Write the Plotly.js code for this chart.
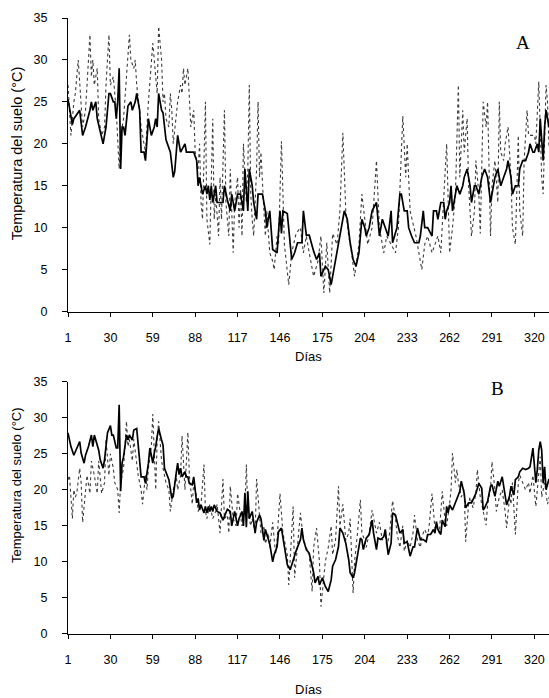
<!DOCTYPE html>
<html><head><meta charset="utf-8">
<script src="https://cdn.plot.ly/plotly-3.0.1.min.js"></script>
<style>html,body{margin:0;padding:0;background:#fff;}#chart{width:549px;height:698px;}</style>
</head><body><div id="chart"></div>
<script>
// Panel A – solid series
const aSolidDays = [1,4,5,9,11,13,16,17,18,20,21,25,27,29,30,32,33,34,35,36,37,38,39,40,42,44,45,47,48,50,51,53,54,56,58,60,61,62,63,65,66,68,71,73,74,76,78,79,81,82,86,87,89,90,91,93,95,96,97,98,99,100,102,103,107,108,110,112,113,115,117,119,120,121,122,124,125,127,128,130,131,134,136,137,139,140,141,144,146,147,148,151,153,154,156,158,161,162,164,166,169,171,173,174,177,179,181,184,186,188,190,192,194,196,198,200,202,204,205,207,209,212,213,214,216,218,220,222,223,226,228,229,231,233,234,236,238,241,242,244,245,247,250,251,253,254,256,258,259,260,262,263,264,266,267,269,271,272,274,276,277,279,280,282,284,286,288,290,291,293,295,297,299,301,302,304,305,307,309,310,312,314,316,317,319,320,322,323,324,326,327,328,330];
const aSolidTemp = [25.3,22.3,23,24,21,22,24,25,24,25,23,20,22,26,26,25,25,23,25,29,17,22,22,21,24.5,25,24,25,26,24,19,19,18,23,21,22,23,22,26,24,23.7,20.5,19,16,16.7,21,19,19.3,20,19,19,19,18,15,16,14,15,14,15,13.3,15,13,15,13,13,15,13.3,12,14,12,14,14,13,12,17,12,17,15,13,11,14,14,12,10,12,10,7.4,7,12,9.3,12,11.7,7.8,6.2,7,8.2,8.2,12,9.1,9.1,7.2,6.2,7,4.2,5.4,5,3.2,6.2,8.2,10.1,12,11,8.2,6.2,5.4,7,11,10,9,10,12,13,11,9,11,10,9,12,8.2,10,14,14,12,12,10,9,8.2,8.2,9,12,10,10,9,12,12,11,13,13,11,12,13,15,12,14,15,14,15,16,17,15,13,15,15,14,16,17,16,13,14,16,17,15,16,17,18,16,14,15,15,17,18,18,19,20,19,19,20,19,23,18,22,24,22];
// Panel A – dotted series
const aDotDays = [1,3,5,6,8,10,11,13,16,17,18,19,21,22,24,26,27,29,30,32,33,34,36,37,39,41,43,44,46,47,48,50,51,53,54,56,57,59,60,62,63,65,66,67,68,70,71,72,73,75,76,78,79,80,81,83,84,85,87,88,90,91,92,93,95,96,98,99,100,101,102,104,105,106,107,108,109,111,112,114,115,117,118,119,120,121,123,124,125,126,127,128,130,131,132,133,135,136,137,138,139,141,142,144,145,147,149,152,154,157,160,162,164,166,169,172,174,176,178,180,182,185,187,189,191,193,195,197,200,202,204,206,209,212,214,217,219,222,225,227,230,232,233,235,238,239,243,245,247,250,252,254,256,260,262,264,266,268,269,271,272,274,275,277,279,280,282,283,285,287,288,290,291,293,295,296,297,299,300,302,304,305,307,309,310,312,313,315,316,318,320,321,323,325,326,328,329,330];
const aDotTemp = [27,21,25,26,30,25,22,24,33,28,30,27,29,23,21,22,27,33,27,28,26,24,17,21,23,28,33,30,29,30,27,24,22,20,19,25,27,32,30,26,34,30,25,26,23,22,26,24,20,24,25,27,26,29,27,29,25,22,24,19,17,20,13,11,25,11,8,14,23,11,14,9,16,11,18,24,13,9,17,7,13,16,10,15,9,20,13,17,27,14,11,9,17,25,16,19,12,9,12,10,7,6,5,9,8,20.3,8,3.2,7,9.3,10,7,9,7,4.2,6,9,2.2,8.2,2.2,9.3,8,12,21.3,12,9,7,4.2,8,14,11,8,10,18,10,7,9,8,7,10,23.3,16,20,12,10,9,5,8,9,7,8,9,7,20,7,10,14,27,16,24,19,23,15,9,12,18,14,9.3,25,22,25,9,15,18,13,25,19,18,20,22,16,10,8,21,12,9,18,24,21,21,21,20,27.4,16,14,27,25,19.5];
// Panel B – solid series
const bSolidDays = [1,3,5,7,9,10,12,13,15,17,18,19,20,22,23,25,26,28,30,31,32,34,35,36,37,38,39,41,42,43,45,46,48,49,50,51,53,54,56,57,58,59,60,61,62,63,65,66,67,68,70,72,73,75,76,77,78,79,81,82,83,84,86,87,88,89,90,91,92,94,95,96,97,98,99,100,101,103,105,107,110,112,113,115,117,118,120,121,122,123,124,125,127,128,129,130,132,133,135,136,138,139,141,142,144,145,147,149,151,153,155,157,160,161,162,164,166,169,170,172,173,175,177,179,181,182,184,186,187,189,191,193,194,196,197,199,201,202,203,205,207,209,210,212,213,215,217,218,220,222,223,225,227,228,230,231,233,235,237,238,240,242,244,246,247,249,251,252,253,254,256,257,259,260,261,262,264,266,267,269,270,272,273,275,277,279,280,282,284,285,286,288,290,291,293,295,296,298,300,301,303,304,306,307,309,310,312,314,316,317,319,321,322,323,324,325,326,327,328,330];
const bSolidTemp = [27.9,26,24.8,25.8,26.7,25.1,23.7,24.8,26,27.6,26,27.6,26.9,25.5,24.2,23,24.2,27.9,28.9,27.6,27.6,25.8,25.8,31.8,19.8,23.7,24.6,27.6,26.9,27.6,26.9,28.3,28.5,26,23.2,21.8,21.8,20.9,23.7,25.8,24.8,23.7,25.1,26,27.4,28.5,26.9,26.2,23,22.5,21.4,18.8,19.1,22.3,23.7,22.1,23,21.8,22.5,21.8,21.8,20.9,20.7,21.8,20.2,18.2,18.8,17.2,17.9,16.8,17.7,16.8,17.7,17,17.7,17,17.9,17,16.8,15.8,17.3,17,15,17,15,16,17,15,19.6,14.8,19.8,16,17,15,14,15.5,16.5,16,13,14.5,13,12.5,10,11,12.1,14.2,14.7,12.1,9.6,8.9,10.3,11.5,13.1,14.7,13.1,11.7,11.2,8.5,7.1,8,6.8,7.8,6.6,5.9,7.5,9.4,10.3,12.1,14.7,14,12.6,10.3,8.5,7.8,8.5,11.2,13.3,13.1,11.7,13.3,13.8,15.8,14,11.7,13.3,13.1,13.5,14.5,11,12.6,16.8,16.5,14.9,14,14.5,12.6,12.8,10.8,12.1,12.1,14.7,13.1,13.1,12.8,13.8,13.8,14.5,14,15.6,14.5,13.8,15.8,14.9,17.7,16.8,17.9,17.2,18.2,18.8,19.8,21.2,19.5,17.5,18.2,18.2,19.1,19.5,20.9,20.2,17.2,17.5,18.4,20.5,20.7,19.1,21.2,20.5,21.8,19.5,17.9,19.1,20.5,19.3,21.4,21.8,22.5,23,22.8,23,23.2,25.8,21,22.8,25.5,26.7,25.5,20.9,23.2,20,21.5];
// Panel B – dotted series
const bDotDays = [1,2,4,5,6,7,9,10,11,13,14,16,17,19,21,22,24,26,27,29,30,32,33,35,36,37,39,41,42,43,45,46,48,49,51,52,54,55,56,58,59,60,61,62,63,65,67,68,70,71,73,75,76,78,79,80,81,83,84,86,87,89,90,92,94,95,96,98,100,102,103,105,107,108,110,111,112,114,116,117,119,120,122,123,124,126,127,129,130,132,133,135,136,138,139,141,143,144,146,148,151,152,155,156,158,160,162,164,166,168,169,171,173,174,176,177,179,181,182,184,186,187,189,191,193,194,196,197,199,201,202,204,205,207,209,211,212,214,216,218,219,221,223,225,226,228,230,231,233,235,237,238,240,242,243,245,247,248,250,252,253,255,257,259,260,262,263,264,266,267,268,270,272,273,275,276,278,280,281,283,285,287,288,290,291,293,294,296,298,300,301,303,304,305,307,309,310,312,314,316,317,319,321,322,324,325,327,329,330];
const bDotTemp = [21.4,22,16,20,19,19.5,23,21,15.5,20,22,19.5,24,22,19.5,24,19.5,21,27,22,25,23,21,20,16.8,21,23,29.5,26,27,24,27,24,22,20,18,22,20,23,26,30.5,24,20,27,29.5,24,22,21,20,17,20,22,20,22,27.5,23,20,28,22,18,21,19,17,18,23.5,17,16,18,16,17,18,14,21.5,16,16.5,14,20.5,16,15,19.5,16,15,17,23.5,17,15,16,14,21.5,17,14,15,12.5,14,12,15.5,11,13,19.5,14,11,6.8,17.7,7.8,12,16.8,13,12,11,5.9,12,14.7,10,3.8,8,10,12,15,11,13,20.5,15,18,13,14,16,5.7,10,14,18.6,14,13,12,14,17.2,15,14,15.5,13,14,12,14,18.5,16,14,12,15,11.5,13,12,14,16.5,13,12,13.5,14.5,13.5,15,19.5,14.5,15,14,19.8,15.5,15,18,20,25.1,21,22.8,21,19,20,12.8,18,19,17.5,19.5,22.8,19,17,15.1,18,20,23.9,20,17,19,20,17,14.7,19,18,21,13.8,21,22,21,20,21,19.5,22,17.7,20,24.6,19,21,18,19];

const xTicks = [1,30,59,88,117,146,175,204,233,262,291,320];
const yTicks = [0,5,10,15,20,25,30,35];
const panelLetters = ['A','B'];
const xLabel = 'Días';
const yLabel = 'Temperatura del suelo (°C)';

const solidLine = {color:'#000', width:1.7, dash:'solid'};
const dotLine = {color:'#3a3a3a', width:1.1, dash:'dot'};
const traces = [
  {x:aDotDays, y:aDotTemp, xaxis:'x', yaxis:'y', mode:'lines', line:dotLine, hoverinfo:'skip'},
  {x:aSolidDays, y:aSolidTemp, xaxis:'x', yaxis:'y', mode:'lines', line:solidLine, hoverinfo:'skip'},
  {x:bDotDays, y:bDotTemp, xaxis:'x2', yaxis:'y2', mode:'lines', line:dotLine, hoverinfo:'skip'},
  {x:bSolidDays, y:bSolidTemp, xaxis:'x2', yaxis:'y2', mode:'lines', line:solidLine, hoverinfo:'skip'}
];
const tickFont = {family:'Liberation Sans, Arial, sans-serif', size:12.5, color:'#000'};
function xAx(anchor){
  return {anchor:anchor, domain:[0,1], range:[1,330], tickmode:'array', tickvals:xTicks, ticktext:xTicks.map(String),
    ticks:'outside', ticklen:4, tickwidth:1, tickcolor:'#000', showline:true, linecolor:'#000', linewidth:1,
    showgrid:false, zeroline:false, tickfont:tickFont, ticklabelstandoff:10, fixedrange:true};
}
function yAx(anchor, dom){
  return {anchor:anchor, domain:dom, range:[0,35], tickmode:'array', tickvals:yTicks, ticktext:yTicks.map(String),
    ticks:'outside', ticklen:5, tickwidth:1, tickcolor:'#000', showline:true, linecolor:'#000', linewidth:1,
    showgrid:false, zeroline:false, tickfont:tickFont, ticklabelstandoff:12, fixedrange:true};
}
const lblFont = {family:'Liberation Sans, Arial, sans-serif', size:13, color:'#000'};
const letterFont = {family:'Liberation Serif, Times New Roman, serif', size:19, color:'#000'};
const layout = {
  width:549, height:698, margin:{l:68, r:0, t:18, b:64}, showlegend:false,
  paper_bgcolor:'#fff', plot_bgcolor:'#fff',
  xaxis:xAx('y'), yaxis:yAx('x',[0.5235,1]),
  xaxis2:xAx('y2'), yaxis2:yAx('x2',[0,0.4096]),
  annotations:[
    {text:xLabel, xref:'paper', yref:'paper', x:0.5, y:0.4497, xanchor:'center', yanchor:'middle', showarrow:false, font:lblFont},
    {text:xLabel, xref:'paper', yref:'paper', x:0.5, y:-0.0909, xanchor:'center', yanchor:'middle', showarrow:false, font:lblFont},
    {text:yLabel, xref:'paper', yref:'paper', x:-0.106, y:0.779, xanchor:'center', yanchor:'middle', textangle:-90, showarrow:false, font:{family:lblFont.family, size:14.5, color:'#000'}},
    {text:yLabel, xref:'paper', yref:'paper', x:-0.106, y:0.242, xanchor:'center', yanchor:'middle', textangle:-90, showarrow:false, font:lblFont},
    {text:panelLetters[0], xref:'paper', yref:'paper', x:0.946, y:0.961, xanchor:'center', yanchor:'middle', showarrow:false, font:letterFont},
    {text:panelLetters[1], xref:'paper', yref:'paper', x:0.892, y:0.399, xanchor:'center', yanchor:'middle', showarrow:false, font:letterFont}
  ]
};
Plotly.newPlot('chart', traces, layout, {displayModeBar:false, staticPlot:true});
</script>
</body></html>
